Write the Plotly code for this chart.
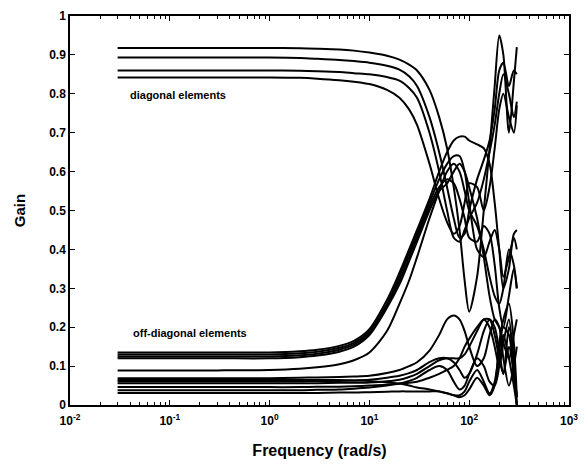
import plotly.graph_objects as go

# Frequency grid (rad/s)
freq = [0.03, 0.3, 1, 2, 3, 5, 7, 10, 15, 20, 25, 30, 40, 50, 60, 70, 80, 90,
        100, 120, 140, 160, 180, 200, 220, 250, 280, 300]

# Diagonal elements (gain)
d1 = [0.918, 0.918, 0.918, 0.917, 0.916, 0.914, 0.911, 0.906, 0.898, 0.888, 0.875, 0.86, 0.81, 0.74,
      0.66, 0.56, 0.45, 0.32, 0.24, 0.33, 0.50, 0.66, 0.82, 0.95, 0.90, 0.70, 0.83, 0.92]
d2 = [0.893, 0.893, 0.893, 0.892, 0.890, 0.887, 0.884, 0.88, 0.872, 0.862, 0.845, 0.82, 0.74, 0.65,
      0.56, 0.48, 0.43, 0.44, 0.50, 0.58, 0.63, 0.68, 0.76, 0.86, 0.88, 0.82, 0.86, 0.85]
d3 = [0.860, 0.860, 0.860, 0.859, 0.858, 0.856, 0.853, 0.85, 0.843, 0.834, 0.815, 0.79, 0.70, 0.60,
      0.50, 0.43, 0.42, 0.45, 0.48, 0.52, 0.58, 0.65, 0.72, 0.80, 0.85, 0.80, 0.74, 0.78]
d4 = [0.842, 0.842, 0.842, 0.841, 0.839, 0.835, 0.831, 0.825, 0.81, 0.79, 0.76, 0.72, 0.62, 0.53,
      0.47, 0.44, 0.46, 0.52, 0.57, 0.56, 0.50, 0.56, 0.66, 0.76, 0.80, 0.74, 0.70, 0.77]

# Off-diagonal elements
o1 = [0.135, 0.135, 0.135, 0.138, 0.142, 0.152, 0.165, 0.195, 0.27, 0.34, 0.40, 0.45, 0.53, 0.60,
      0.65, 0.68, 0.69, 0.69, 0.68, 0.67, 0.66, 0.62, 0.52, 0.40, 0.30, 0.35, 0.44, 0.45]
o2 = [0.130, 0.130, 0.130, 0.133, 0.137, 0.147, 0.160, 0.19, 0.26, 0.33, 0.39, 0.44, 0.52, 0.58,
      0.62, 0.64, 0.64, 0.60, 0.52, 0.40, 0.38, 0.42, 0.45, 0.40, 0.33, 0.38, 0.43, 0.40]
o3 = [0.125, 0.125, 0.125, 0.128, 0.132, 0.142, 0.155, 0.185, 0.255, 0.32, 0.38, 0.43, 0.51, 0.56,
      0.58, 0.57, 0.53, 0.48, 0.43, 0.42, 0.46, 0.44, 0.36, 0.25, 0.20, 0.28, 0.35, 0.30]
o4 = [0.120, 0.120, 0.120, 0.123, 0.127, 0.137, 0.150, 0.18, 0.25, 0.31, 0.37, 0.42, 0.50, 0.55,
      0.57, 0.60, 0.62, 0.60, 0.56, 0.48, 0.38, 0.28, 0.22, 0.20, 0.16, 0.12, 0.18, 0.22]
o5 = [0.089, 0.089, 0.090, 0.093, 0.097, 0.105, 0.115, 0.135, 0.19, 0.26, 0.32, 0.38, 0.48, 0.55,
      0.60, 0.62, 0.60, 0.55, 0.50, 0.46, 0.40, 0.33, 0.28, 0.26, 0.30, 0.40, 0.36, 0.30]
l1 = [0.069, 0.069, 0.069, 0.070, 0.071, 0.072, 0.073, 0.075, 0.082, 0.09, 0.10, 0.11, 0.14, 0.18,
      0.22, 0.23, 0.22, 0.19, 0.15, 0.10, 0.12, 0.18, 0.22, 0.20, 0.12, 0.05, 0.10, 0.15]
l2 = [0.064, 0.064, 0.064, 0.064, 0.064, 0.064, 0.063, 0.062, 0.058, 0.055, 0.05, 0.045, 0.04, 0.035,
      0.03, 0.025, 0.02, 0.025, 0.04, 0.07, 0.05, 0.025, 0.05, 0.16, 0.22, 0.26, 0.16, 0.02]
l3 = [0.061, 0.061, 0.061, 0.061, 0.062, 0.062, 0.063, 0.065, 0.07, 0.075, 0.082, 0.09, 0.11, 0.12,
      0.12, 0.11, 0.09, 0.07, 0.08, 0.13, 0.19, 0.22, 0.20, 0.14, 0.08, 0.15, 0.08, 0.02]
l4 = [0.056, 0.056, 0.056, 0.056, 0.056, 0.057, 0.057, 0.058, 0.061, 0.065, 0.072, 0.08, 0.10, 0.115,
      0.12, 0.12, 0.12, 0.13, 0.15, 0.19, 0.22, 0.22, 0.18, 0.12, 0.08, 0.20, 0.12, 0.00]
l5 = [0.046, 0.046, 0.046, 0.046, 0.047, 0.047, 0.048, 0.05, 0.052, 0.055, 0.057, 0.06, 0.07, 0.08,
      0.09, 0.10, 0.12, 0.15, 0.17, 0.20, 0.22, 0.20, 0.15, 0.10, 0.16, 0.22, 0.10, 0.02]
l6 = [0.038, 0.038, 0.038, 0.038, 0.039, 0.040, 0.042, 0.045, 0.05, 0.055, 0.062, 0.07, 0.09, 0.10,
      0.09, 0.06, 0.04, 0.05, 0.08, 0.12, 0.10, 0.06, 0.05, 0.10, 0.18, 0.12, 0.05, 0.00]
l7 = [0.031, 0.031, 0.031, 0.031, 0.031, 0.032, 0.032, 0.033, 0.034, 0.035, 0.035, 0.035, 0.035, 0.035,
      0.03, 0.025, 0.025, 0.035, 0.06, 0.09, 0.06, 0.03, 0.06, 0.14, 0.20, 0.18, 0.08, 0.00]

series = [d1, d2, d3, d4, o1, o2, o3, o4, o5, l1, l2, l3, l4, l5, l6, l7]

xtick_vals = [0.01, 0.1, 1, 10, 100, 1000]
xtick_text = ["10<sup>-2</sup>", "10<sup>-1</sup>", "10<sup>0</sup>",
              "10<sup>1</sup>", "10<sup>2</sup>", "10<sup>3</sup>"]
ytick_vals = [0, 0.1, 0.2, 0.3, 0.4, 0.5, 0.6, 0.7, 0.8, 0.9, 1]
ytick_text = ["0", "0.1", "0.2", "0.3", "0.4", "0.5", "0.6", "0.7", "0.8", "0.9", "1"]

fig = go.Figure()
for s in series:
    fig.add_trace(go.Scatter(x=freq, y=s, mode="lines",
                             line=dict(color="black", width=2, shape="spline", smoothing=0.8),
                             showlegend=False, hoverinfo="skip"))

font = dict(family="Liberation Sans, Arial, sans-serif", color="black", weight="bold")

fig.add_annotation(x=-1.42, y=0.796, xref="x", yref="y", text="diagonal elements",
                   showarrow=False, xanchor="left", yanchor="middle",
                   font=dict(size=11, **font))
fig.add_annotation(x=-1.39, y=0.184, xref="x", yref="y", text="off-diagonal elements",
                   showarrow=False, xanchor="left", yanchor="middle",
                   font=dict(size=11, **font))

fig.update_xaxes(type="log", range=[-2, 3], tickvals=xtick_vals, ticktext=xtick_text,
                 ticks="inside", ticklen=5, tickwidth=1, tickcolor="black",
                 mirror="ticks", showline=True, linecolor="black", linewidth=1.5,
                 showgrid=False, zeroline=False, ticklabelstandoff=4,
                 minor=dict(ticks="inside", ticklen=3, tickcolor="black", dtick="D1", showgrid=False),
                 tickfont=dict(size=12, **font),
                 title=dict(text="Frequency (rad/s)", font=dict(size=16, **font), standoff=18))
fig.update_yaxes(range=[0, 1], tickvals=ytick_vals, ticktext=ytick_text,
                 ticks="inside", ticklen=5, tickwidth=1, tickcolor="black",
                 mirror="ticks", showline=True, linecolor="black", linewidth=1.5,
                 showgrid=False, zeroline=False,
                 tickfont=dict(size=12, **font),
                 title=dict(text="Gain", font=dict(size=15, **font), standoff=20))

fig.update_layout(width=587, height=469, margin=dict(l=70, r=9, t=13, b=64),
                  plot_bgcolor="white", paper_bgcolor="white")

fig.write_html("out.html")
